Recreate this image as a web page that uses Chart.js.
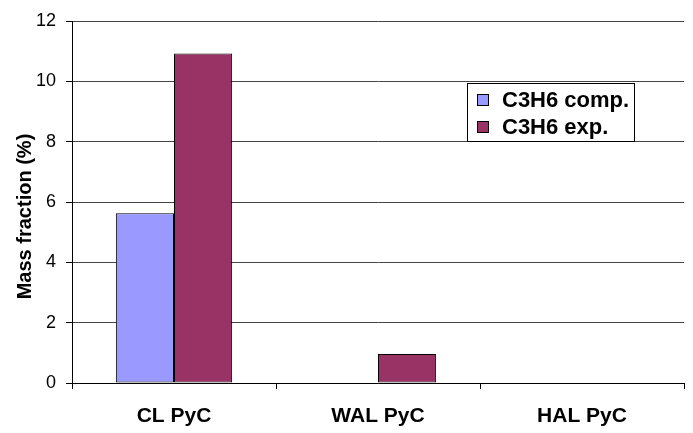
<!DOCTYPE html>
<html>
<head>
<meta charset="utf-8">
<script src="https://cdn.jsdelivr.net/npm/chart.js@4/dist/chart.umd.min.js"></script>
<style>
  html, body { margin: 0; padding: 0; background: #fff; }
  #wrap { width: 693px; height: 433px; }
</style>
</head>
<body>
<div id="wrap"><canvas id="c" width="693" height="433"></canvas></div>
<script>
// Propene (C3H6) mass fractions per pyrocarbon type
const CATEGORIES = ['CL PyC', 'WAL PyC', 'HAL PyC'];
const COMPUTED = [5.63, 0, 0];
const MEASURED = [10.92, 0.96, 0];
const SERIES_NAMES = ['C3H6 comp.', 'C3H6 exp.'];
const Y_TICKS = [0, 2, 4, 6, 8, 10, 12];
const Y_TITLE = 'Mass fraction (%)';

const FONT = "'Liberation Sans', Arial, Helvetica, sans-serif";
const COLORS = ['#9999FF', '#993366'];

// Boxed legend drawn inside the plot area, upper right
const boxLegend = {
  id: 'boxLegend',
  afterDatasetsDraw(chart) {
    const ctx = chart.ctx;
    const x = 467.5, y = 83.5, w = 167, h = 58;
    ctx.save();
    ctx.fillStyle = '#fff';
    ctx.fillRect(x, y, w, h);
    ctx.strokeStyle = '#000';
    ctx.lineWidth = 1;
    ctx.strokeRect(x, y, w, h);
    ctx.font = 'bold 22px ' + FONT;
    ctx.textBaseline = 'middle';
    ctx.textAlign = 'left';
    chart.data.datasets.forEach((ds, i) => {
      const cy = 100 + i * 27;
      ctx.fillStyle = ds.backgroundColor;
      ctx.fillRect(477.5, cy - 5.5, 11, 11);
      ctx.strokeStyle = '#000';
      ctx.strokeRect(477.5, cy - 5.5, 11, 11);
      ctx.fillStyle = '#000';
      ctx.fillText(ds.label, 502, cy + 1);
    });
    ctx.restore();
  }
};

// Vertical value-axis title, centred on the full canvas height
const yAxisTitle = {
  id: 'yAxisTitle',
  afterDraw(chart) {
    const ctx = chart.ctx;
    ctx.save();
    ctx.translate(25, chart.height / 2);
    ctx.rotate(-Math.PI / 2);
    ctx.font = 'bold 20px ' + FONT;
    ctx.fillStyle = '#000';
    ctx.textAlign = 'center';
    ctx.textBaseline = 'middle';
    ctx.fillText(Y_TITLE, 0, 0);
    ctx.restore();
  }
};

new Chart(document.getElementById('c'), {
  type: 'bar',
  data: {
    labels: CATEGORIES,
    datasets: [
      { label: SERIES_NAMES[0], data: COMPUTED, backgroundColor: COLORS[0] },
      { label: SERIES_NAMES[1], data: MEASURED, backgroundColor: COLORS[1] }
    ]
  },
  options: {
    responsive: false,
    animation: false,
    devicePixelRatio: 1,
    layout: { padding: { left: 0, right: 9, top: 21, bottom: 0 } },
    datasets: {
      bar: {
        borderColor: '#000',
        borderWidth: 1,
        borderSkipped: false,
        categoryPercentage: 0.57,
        barPercentage: 1.0
      }
    },
    plugins: {
      legend: { display: false },
      tooltip: { enabled: false },
      title: { display: false }
    },
    scales: {
      x: {
        offset: true,
        afterFit(scale) { scale.height = 50; },
        grid: {
          offset: true,
          color: c => c.index === CATEGORIES.length ? '#9a9a9a' : 'rgba(0,0,0,0)',
          lineWidth: 1,
          tickColor: '#000',
          tickLength: 6
        },
        border: { color: '#000', width: 1 },
        ticks: {
          color: '#000',
          padding: 15,
          font: { family: FONT, size: 21, weight: 'bold' },
          maxRotation: 0
        }
      },
      y: {
        min: 0,
        max: 12,
        afterFit(scale) { scale.width = 72; },
        afterBuildTicks(scale) { scale.ticks = Y_TICKS.map(v => ({ value: v })); },
        grid: {
          color: '#444',
          lineWidth: 1,
          tickColor: '#000',
          tickLength: 6
        },
        border: { color: '#000', width: 1 },
        ticks: {
          color: '#000',
          padding: 10,
          font: { family: FONT, size: 18 }
        },
        title: { display: false }
      }
    }
  },
  plugins: [boxLegend, yAxisTitle]
});
</script>
</body>
</html>
